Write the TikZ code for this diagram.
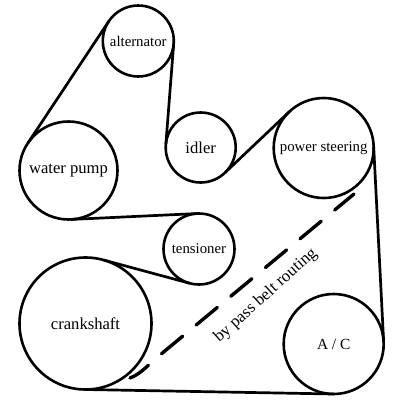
\documentclass[tikz,border=0pt]{standalone}
\usepackage{fontspec}
\setmainfont{Liberation Serif}
\begin{document}
\begin{tikzpicture}[
    x=1pt, y=-1pt,
    pulley/.style={circle, draw=black, line width=2.6pt, inner sep=0pt, outer sep=0pt, text centered, font=\fontsize{16.6}{18}\selectfont},
    small/.style={font=\fontsize{14.8}{16}\selectfont},
    belt/.style={line width=2.7pt, black},
    bypass/.style={line width=3.4pt, black, line cap=round, dash pattern=on 27.5pt off 17.5pt, dash phase=5pt}
]
\useasboundingbox (0,0) rectangle (400,400);
\node[pulley, small, minimum size=71pt] (alternator) at (138.3,41) {alternator};
\node[pulley, minimum size=70pt] (idler) at (200.7,147.5) {idler};
\node[pulley, small, minimum size=100pt] (steering) at (323.7,148) {power steering};
\node[pulley, minimum size=98pt] (pump) at (68.5,170.5) {water pump};
\node[pulley, small, minimum size=71pt] (tensioner) at (199,249) {tensioner};
\node[pulley, minimum size=132pt] (crank) at (85.5,323.5) {crankshaft};
\node[pulley, minimum size=100pt, font=\fontsize{15.4}{17}\selectfont] (ac) at (333.7,344) {A / C};
\node[rotate=42, font=\fontsize{16.8}{18}\selectfont] (routing) at (265.8,295.7) {by pass belt routing};
\coordinate (bypassstart) at (130,378);
\coordinate (bypassend) at (354,194);

\draw[belt] (alternator.146.6) -- (pump.146.6);
\draw[belt] (alternator.-4.7) -- (idler.175.3);
\draw[belt] (idler.-46.5) -- (steering.133.5);
\draw[belt] (steering.2.9) -- (ac.2.9);
\draw[belt] (crank.-90.8) -- (ac.-90.8);
\draw[belt] (pump.-87.2) -- (tensioner.92.8);
\draw[belt] (crank.74.8) -- (tensioner.-105.2);
\draw[bypass] (bypassstart) .. controls (141,374) and (150,363) .. (160,355) -- (bypassend);
\end{tikzpicture}
\end{document}
